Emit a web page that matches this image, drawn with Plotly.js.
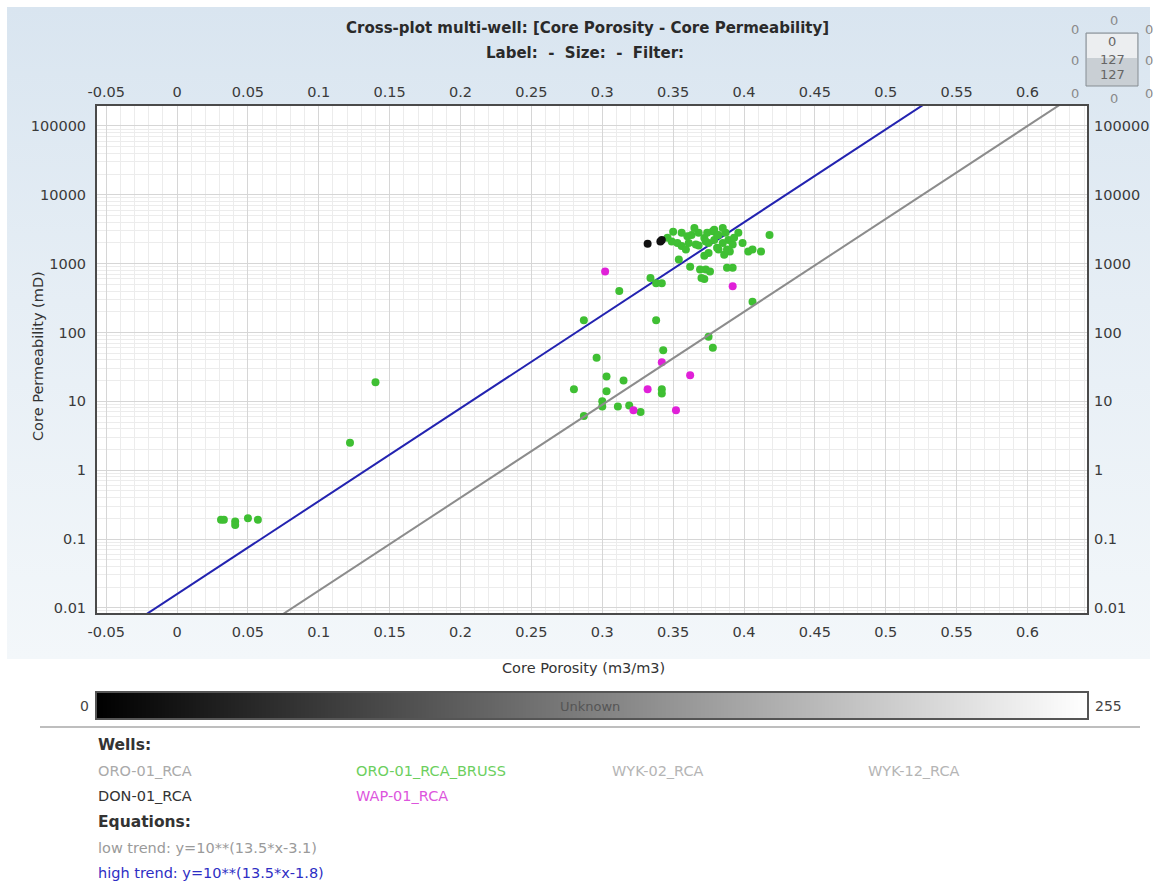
<!DOCTYPE html>
<html>
<head>
<meta charset="utf-8">
<script src="https://cdn.plot.ly/plotly-3.0.1.min.js"></script>
<style>
  html, body { margin: 0; padding: 0; background: #ffffff; }
  #bg { position: absolute; left: 7px; top: 7px; width: 1143px; height: 652px;
        background: linear-gradient(to bottom, #d9e5f0 0%, #e6eef5 45%, #f3f7fa 100%); }
  #chart { position: absolute; left: 0; top: 0; width: 1157px; height: 881px; }
</style>
</head>
<body>
<div id="bg"></div>
<div id="chart"></div>
<script>
// ---------- data ----------
const broussPorosity = [0.349,0.353,0.356,0.356,0.360,0.361,0.363,0.366,0.368,0.372,0.374,0.375,0.378,0.379,0.381,
  0.379,0.382,0.387,0.389,0.392,0.373,0.385,0.382,0.375,0.386,0.390,0.396,0.399,0.403,0.406,0.412,0.418,
  0.346,0.350,0.359,0.365,0.368,0.381,0.385,0.393,0.388,0.372,
  0.373,0.376,0.372,0.388,0.392,0.406,0.354,0.362,0.369,0.370,0.334,0.338,0.342,0.312,
  0.287,0.338,0.375,0.378,0.343,0.296,0.303,0.315,0.280,0.303,0.342,0.342,0.300,0.300,0.311,0.319,0.327,0.287,
  0.031,0.033,0.041,0.041,0.050,0.057,0.122,0.140];
const broussPerm = [2100,2000,2800,1800,2500,2000,2600,1900,2800,2350,2800,2000,2950,2200,2600,
  3100,2600,2800,2200,1900,2100,2000,1600,1430,1350,1500,2800,2000,1500,1600,1500,2600,
  2380,2900,1600,3300,1830,1700,3300,2380,1600,1300,
  820,770,600,870,870,280,1150,900,820,620,620,520,520,400,
  150,150,87,60,55,43,23,20,15,14,15,13,10,8.4,8.4,8.7,7.0,6.1,
  0.19,0.19,0.18,0.16,0.2,0.19,2.5,19];

const donPorosity = [0.332,0.341,0.342];
const donPerm = [1950,2100,2200];

const wapPorosity = [0.302,0.392,0.342,0.362,0.332,0.322,0.352];
const wapPerm = [770,470,37,24,15,7.4,7.4];

// trend lines  low: y=10**(13.5*x-3.1)   high: y=10**(13.5*x-1.8)
const lowTrendX = [0.05, 0.65];
const lowTrendY = [0.00376, 473000];
const highTrendX = [-0.05, 0.55];
const highTrendY = [0.00335, 421700];

const permTickVals = [0.01, 0.1, 1, 10, 100, 1000, 10000, 100000];
const permTickText = ["0.01", "0.1", "1", "10", "100", "1000", "10000", "100000"];
const porosityTickVals = [-0.05,0,0.05,0.1,0.15,0.2,0.25,0.3,0.35,0.4,0.45,0.5,0.55,0.6];
const porosityTickText = ["-0.05","0","0.05","0.1","0.15","0.2","0.25","0.3","0.35","0.4","0.45","0.5","0.55","0.6"];

const scaleX = [0, 255];
const scaleZ = [[0, 255]];

const wellNames = ["ORO-01_RCA","ORO-01_RCA_BRUSS","WYK-02_RCA","WYK-12_RCA","DON-01_RCA","WAP-01_RCA"];
const wellColors = ["#aaaaaa","#6ccf5e","#b5b5b5","#b5b5b5","#333333","#dd55dd"];
const equationTexts = ["low trend: y=10**(13.5*x-3.1)","high trend: y=10**(13.5*x-1.8)"];
const equationColors = ["#9a9a9a","#2e2ec4"];
const widgetOuter = ["0","0","0","0","0","0","0","0"];
const widgetInner = ["0","127","127"];

// ---------- layout helpers (pixel -> paper) ----------
const L = 97, R = 70, T = 106, B = 163, W = 1157, H = 881;
const PW = W - L - R, PH = H - T - B;
const px = p => (p - L) / PW;
const py = p => (H - B - p) / PH;

const FONT = "DejaVu Sans, Verdana, sans-serif";
const xRange = [-0.0565, 0.642];
const yRange = [-2.075, 5.29];

const traces = [
  { type: "scatter", mode: "lines", x: lowTrendX, y: lowTrendY, xaxis: "x2", yaxis: "y3",
    line: { color: "#8c8c8c", width: 2 }, hoverinfo: "skip", showlegend: false },
  { type: "scatter", mode: "lines", x: highTrendX, y: highTrendY, xaxis: "x", yaxis: "y",
    line: { color: "#2323b0", width: 2 }, hoverinfo: "skip", showlegend: false },
  { type: "scatter", mode: "markers", x: broussPorosity, y: broussPerm, name: wellNames[1],
    marker: { color: "#3fbf33", size: 8 }, showlegend: false },
  { type: "scatter", mode: "markers", x: wapPorosity, y: wapPerm, name: wellNames[5],
    marker: { color: "#e020d8", size: 8 }, showlegend: false },
  { type: "scatter", mode: "markers", x: donPorosity, y: donPerm, name: wellNames[4],
    marker: { color: "#111111", size: 8 }, showlegend: false },
  { type: "heatmap", x: scaleX, y: [0], z: scaleZ, xaxis: "x4", yaxis: "y4",
    colorscale: [[0, "#000000"], [1, "#ffffff"]], zsmooth: "best", showscale: false, hoverinfo: "skip" }
];

const tickFont = { family: FONT, size: 14.5, color: "#3a3a3a" };
const mainDomainY = [py(613), 1];

const xCommon = {
  type: "linear", range: xRange, tickmode: "array", tickvals: porosityTickVals, ticktext: porosityTickText,
  showgrid: true, gridcolor: "#d6d6d6", gridwidth: 1, zeroline: false,
  minor: { tickmode: "linear", dtick: 0.01, tick0: 0, showgrid: true, gridcolor: "#ececec", gridwidth: 1 },
  tickfont: tickFont, ticks: "", ticklabelstandoff: 5
};
const yCommon = {
  type: "log", range: yRange, tickmode: "array", tickvals: permTickVals, ticktext: permTickText,
  showgrid: true, gridcolor: "#d6d6d6", gridwidth: 1, zeroline: false,
  minor: { dtick: "D1", showgrid: true, gridcolor: "#ececec", gridwidth: 1 },
  tickfont: tickFont, ticks: "", ticklabelstandoff: 6
};

const annotations = [];
function txt(x, y, text, opts) {
  annotations.push(Object.assign({ xref: "paper", yref: "paper", x: px(x), y: py(y), text: text,
    showarrow: false, xanchor: "left", yanchor: "middle",
    font: { family: FONT, size: 14.5, color: "#333333" } }, opts || {}));
}
const titleFont = { family: FONT, size: 15, color: "#2a2a2a" };
// titles
txt(587, 28, "<b>Cross-plot multi-well: [Core Porosity - Core Permeability]</b>", { xanchor: "center", font: titleFont });
txt(585, 53, "<b>Label:&nbsp;&nbsp;-&nbsp;&nbsp;Size:&nbsp;&nbsp;-&nbsp;&nbsp;Filter:</b>", { xanchor: "center", font: titleFont });
// axis titles
txt(583, 668, "Core Porosity (m3/m3)", { xanchor: "center" });
txt(38, 356, "Core Permeability (mD)", { xanchor: "center", textangle: -90 });
// color scale labels
txt(91, 706, "0", { xanchor: "right", font: { family: FONT, size: 14, color: "#444" } });
txt(1093, 706, "255", { font: { family: FONT, size: 14, color: "#444" } });
txt(590, 706, "Unknown", { xanchor: "center", font: { family: FONT, size: 13, color: "#555" } });
// wells legend
txt(96, 745, "<b>Wells:</b>", { font: { family: FONT, size: 15.5, color: "#333" } });
const wellPos = [[96,771],[354,771],[610,771],[866,771],[96,796],[354,796]];
wellNames.forEach((n, i) => txt(wellPos[i][0], wellPos[i][1], n, { font: { family: FONT, size: 14.5, color: wellColors[i] } }));
txt(96, 822, "<b>Equations:</b>", { font: { family: FONT, size: 15.5, color: "#333" } });
equationTexts.forEach((t, i) => txt(96, 848 + 25 * i, t, { font: { family: FONT, size: 14.5, color: equationColors[i] } }));
// top-right widget numbers
const outerPos = [[1114,20],[1075,29],[1149,29],[1075,60],[1149,60],[1075,93],[1114,98],[1149,93]];
outerPos.forEach((p, i) => txt(p[0], p[1], widgetOuter[i], { xanchor: "center", font: { family: FONT, size: 13, color: "#8a8a8a" } }));
const innerPos = [[1112,42],[1112,59],[1112,75]];
innerPos.forEach((p, i) => txt(p[0], p[1], widgetInner[i], { xanchor: "center", font: { family: FONT, size: 13, color: "#666" } }));

const shapes = [
  // separator line
  { type: "line", xref: "paper", yref: "paper", x0: px(40), x1: px(1140), y0: py(727), y1: py(727),
    line: { color: "#a9a9a9", width: 1.5 } },
  // widget box
  { type: "rect", xref: "paper", yref: "paper", x0: px(1086), x1: px(1138), y0: py(86), y1: py(33),
    fillcolor: "#c9cfd4", line: { color: "#868d93", width: 1 }, layer: "below" },
  { type: "rect", xref: "paper", yref: "paper", x0: px(1087), x1: px(1137), y0: py(58), y1: py(34),
    fillcolor: "#eceef0", line: { width: 0 }, layer: "below" }
];

const layout = {
  width: W, height: H,
  margin: { l: L, r: R, t: T, b: B, pad: 0 },
  paper_bgcolor: "rgba(0,0,0,0)",
  plot_bgcolor: "#ffffff",
  font: { family: FONT, size: 14, color: "#333" },
  showlegend: false,
  xaxis: Object.assign({}, xCommon, { anchor: "y", side: "bottom", domain: [0, 1],
    showline: true, linecolor: "#4a4a4a", linewidth: 2, mirror: true }),
  xaxis2: Object.assign({}, xCommon, { overlaying: "x", anchor: "y", side: "top", showgrid: false,
    minor: { showgrid: false } }),
  yaxis: Object.assign({}, yCommon, { anchor: "x", side: "left", domain: mainDomainY,
    showline: true, linecolor: "#4a4a4a", linewidth: 2, mirror: true }),
  yaxis3: Object.assign({}, yCommon, { overlaying: "y", anchor: "x", side: "right", showgrid: false,
    minor: { showgrid: false } }),
  xaxis4: { domain: [0, px(1089)], range: [0, 255], anchor: "y4", showgrid: false, zeroline: false,
    showticklabels: false, ticks: "", showline: true, linecolor: "#555555", linewidth: 2, mirror: true },
  yaxis4: { domain: [py(718), py(693)], range: [-0.5, 0.5], anchor: "x4", showgrid: false, zeroline: false,
    showticklabels: false, ticks: "", showline: true, linecolor: "#555555", linewidth: 2, mirror: true },
  annotations: annotations,
  shapes: shapes
};

Plotly.newPlot("chart", traces, layout, { displayModeBar: false, staticPlot: true });
</script>
</body>
</html>
